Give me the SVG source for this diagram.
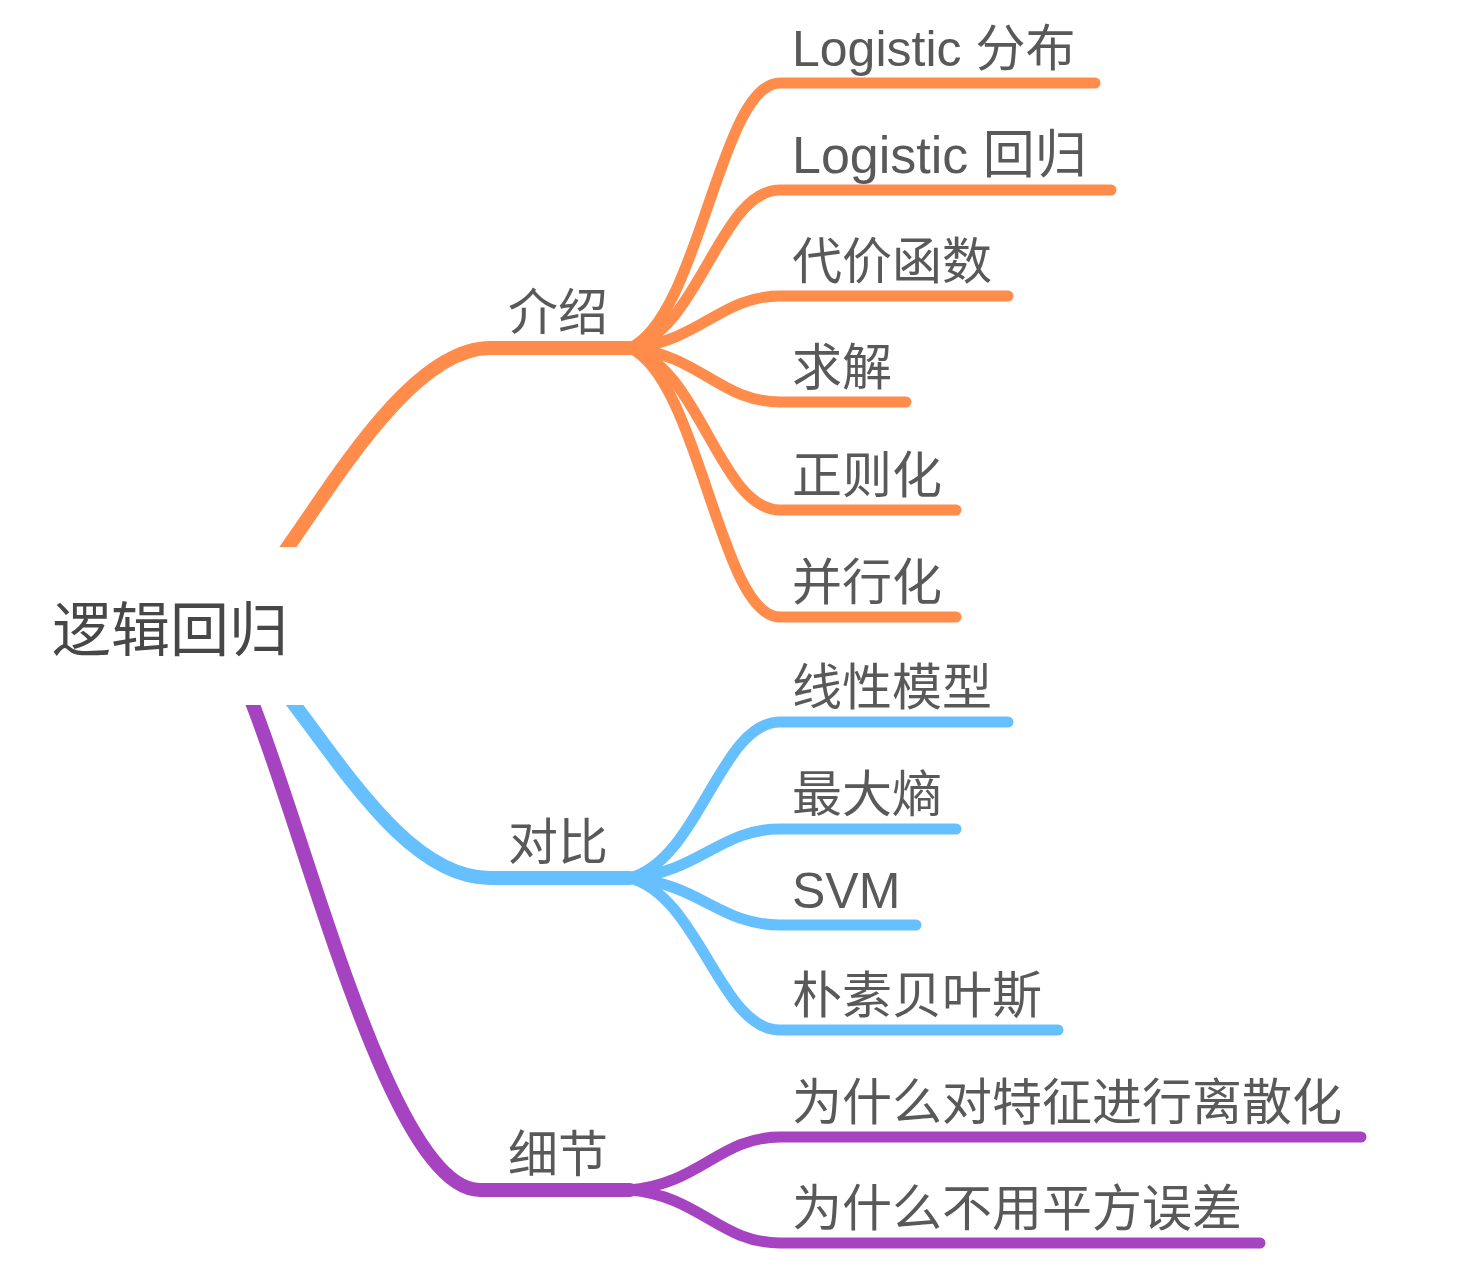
<svg xmlns="http://www.w3.org/2000/svg" width="1462" height="1286" viewBox="0 0 1462 1286">
  <style>
    .t { font-family: "Liberation Sans", "Noto Sans CJK SC", sans-serif; font-size: 50px; fill: #595959; }
    .root { font-family: "Liberation Sans", "Noto Sans CJK SC", sans-serif; font-size: 59px; fill: #474747; }
    .trunk { fill: none; stroke-width: 14; stroke-linecap: round; stroke-linejoin: round; }
    .leaf { fill: none; stroke-width: 11; stroke-linecap: round; stroke-linejoin: round; }
    .o { stroke: #FF8C4B; }
    .b { stroke: #66C0FF; }
    .p { stroke: #A643C0; }
  </style>
  <defs>
    <clipPath id="clipTop"><rect x="0" y="0" width="1462" height="547"/></clipPath>
    <clipPath id="clipBottom"><rect x="0" y="705" width="1462" height="581"/></clipPath>
  </defs>
  <rect width="1462" height="1286" fill="#ffffff"/>

  <g id="connectors">
    <path class="trunk o" clip-path="url(#clipTop)" d="M280,558 C330,490 410,348 490,348 L630,348"/>
    <path class="trunk b" clip-path="url(#clipBottom)" d="M287,695 C345,770 410,878 490,878 L630,878"/>
    <path class="trunk p" clip-path="url(#clipBottom)" d="M249,695 C305,830 390,1190 480,1190 L630,1190"/>

    <path class="leaf o" d="M630,348 C700,316 720,83 780,83 L1095,83"/>
    <path class="leaf o" d="M630,348 C700,329 720,190 780,190 L1111,190"/>
    <path class="leaf o" d="M630,348 C700,342 720,296 780,296 L1008,296"/>
    <path class="leaf o" d="M630,348 C700,355 720,402 780,402 L906,402"/>
    <path class="leaf o" d="M630,348 C700,368 720,510 780,510 L956,510"/>
    <path class="leaf o" d="M630,348 C700,380 720,617 780,617 L956,617"/>

    <path class="leaf b" d="M630,878 C700,859 720,722 780,722 L1008,722"/>
    <path class="leaf b" d="M630,878 C700,872 720,829 780,829 L956,829"/>
    <path class="leaf b" d="M630,878 C700,884 720,925 780,925 L916,925"/>
    <path class="leaf b" d="M630,878 C700,897 720,1030 780,1030 L1058,1030"/>

    <path class="leaf p" d="M630,1190 C700,1184 720,1137 780,1137 L1361,1137"/>
    <path class="leaf p" d="M630,1190 C700,1196 720,1243 780,1243 L1260,1243"/>
  </g>

  <g id="root"><text class="root" x="52" y="651">逻辑回归</text></g>

  <g id="intro"><text class="t" x="508" y="330">介绍</text></g>
  <g id="compare"><text class="t" x="508" y="860">对比</text></g>
  <g id="details"><text class="t" x="508" y="1172">细节</text></g>

  <g id="n-logistic-dist"><text class="t" x="792" y="66">Logistic 分布</text></g>
  <g id="n-logistic-reg"><text class="t" x="792" y="173" style="font-size:52px">Logistic 回归</text></g>
  <g id="n-cost"><text class="t" x="792" y="279">代价函数</text></g>
  <g id="n-solve"><text class="t" x="792" y="385">求解</text></g>
  <g id="n-reg"><text class="t" x="792" y="493">正则化</text></g>
  <g id="n-parallel"><text class="t" x="792" y="600">并行化</text></g>

  <g id="n-linear"><text class="t" x="792" y="705">线性模型</text></g>
  <g id="n-maxent"><text class="t" x="792" y="812">最大熵</text></g>
  <g id="n-svm"><text class="t" x="792" y="908">SVM</text></g>
  <g id="n-nb"><text class="t" x="792" y="1013">朴素贝叶斯</text></g>

  <g id="n-discrete"><text class="t" x="792" y="1120">为什么对特征进行离散化</text></g>
  <g id="n-mse"><text class="t" x="792" y="1226">为什么不用平方误差</text></g>
</svg>
